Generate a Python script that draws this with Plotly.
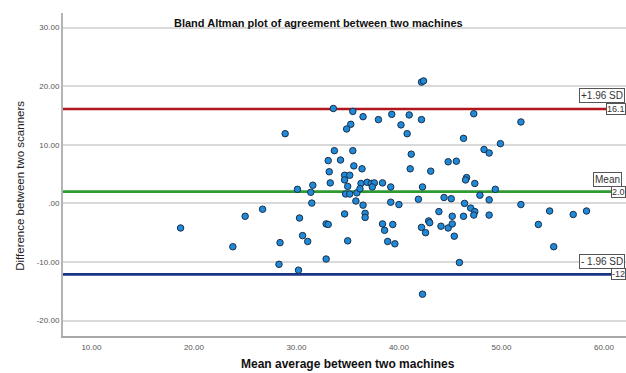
import plotly.graph_objects as go

# ---- data ----
mean_avg = [33.6, 35.5, 35.3, 34.9, 28.9, 33.7, 35.5, 33.1, 34.3, 35.6,
            33.2, 34.7, 35.2, 33.3, 34.7, 35.0, 31.6, 30.1, 31.4, 34.8,
            35.2, 35.9, 31.5, 35.8, 26.7, 25.0, 18.7, 30.3, 32.9, 33.1,
            34.7, 30.6, 31.1, 28.4, 23.8, 35.0, 32.9, 28.3, 30.2, 42.2,
            42.4, 36.5, 38.0, 39.3, 41.0, 40.2, 42.2, 40.8, 41.2, 44.8,
            36.4, 41.1, 43.1, 36.3, 36.9, 37.3, 37.6, 38.4, 37.4, 36.2,
            39.2, 42.3, 36.5, 39.2, 40.0, 41.9, 44.4, 36.7, 36.7, 43.9,
            42.9, 43.0, 38.4, 39.4, 38.6, 42.2, 42.6, 44.1, 44.8, 38.9,
            39.6, 42.3, 47.3, 51.9, 46.3, 49.9, 48.3, 48.8, 45.6, 46.6,
            46.5, 47.4, 49.4, 45.1, 47.9, 48.8, 51.9, 46.4, 47.0, 47.4,
            47.3, 46.3, 48.8, 45.2, 45.2, 45.4, 53.6, 45.9, 54.7, 57.0,
            58.3, 55.1]
difference = [16.2, 15.7, 13.5, 12.7, 11.9, 9.0, 9.0, 7.3, 7.4, 6.4,
              5.4, 4.8, 4.8, 3.5, 4.0, 2.9, 3.1, 2.4, 1.9, 1.6,
              1.6, 1.8, 0.05, 0.4, -1.0, -2.2, -4.2, -2.5, -3.5, -3.6,
              -1.8, -5.5, -6.5, -6.7, -7.4, -6.4, -9.5, -10.4, -11.4, 20.7,
              20.9, 14.8, 14.3, 15.2, 15.1, 13.4, 14.3, 11.9, 8.4, 7.1,
              5.9, 5.9, 5.5, 3.4, 3.6, 3.4, 3.5, 3.5, 2.8, 2.5,
              2.8, 2.8, -0.3, 0.2, -0.2, 0.7, 1.0, -1.7, -2.4, -1.4,
              -3.0, -3.3, -3.5, -3.6, -4.6, -4.1, -5.0, -3.9, -4.2, -6.5,
              -6.9, -15.5, 15.3, 13.9, 11.1, 10.2, 9.2, 8.6, 7.2, 4.4,
              4.0, 3.4, 2.4, 0.8, 1.4, 0.6, -0.2, 0.0, -0.8, -1.4,
              -2.0, -2.2, -2.0, -2.2, -3.5, -5.6, -3.6, -10.1, -1.3, -1.9,
              -1.3, -7.4]

mean_diff = 2.00
upper_loa = 16.12
lower_loa = -12.12

x_range = [7.23, 62.15]
y_range = [-22.64, 32.5]
x_tickvals = [10, 20, 30, 40, 50, 60]
x_ticktext = ["10.00", "20.00", "30.00", "40.00", "50.00", "60.00"]
y_tickvals = [30, 20, 10, 0, -10, -20]
y_ticktext = ["30.00", "20.00", "10.00", ".00", "-10.00", "-20.00"]

FONT = "Liberation Sans, Arial, sans-serif"

fig = go.Figure()

# reference lines (above grid, below points)
line_specs = [(upper_loa, "#b0161c"), (mean_diff, "#2e9a32"), (lower_loa, "#1a3585")]
for val, col in line_specs:
    fig.add_trace(go.Scatter(x=x_range, y=[val, val], mode="lines",
                             line=dict(color=col, width=2.6),
                             showlegend=False, hoverinfo="y"))

fig.add_trace(go.Scatter(
    x=mean_avg, y=difference, mode="markers",
    marker=dict(size=6.5, color="#1f8ad8", line=dict(width=1, color="#1c2f4a")),
    showlegend=False, hoverinfo="x+y",
))

box = dict(bgcolor="white", bordercolor="#555555", borderwidth=1, showarrow=False)
big = dict(family=FONT, size=10, color="#333333")
small = dict(family=FONT, size=9, color="#333333")

# labels near the right edge
fig.add_annotation(text="+1.96 SD", xref="paper", yref="y", x=0.998, y=18.35,
                   xanchor="right", yanchor="middle", borderpad=1, font=big, **box)
fig.add_annotation(text=f"{upper_loa:.1f}", xref="paper", yref="y", x=1.0, y=upper_loa,
                   xanchor="right", yanchor="middle", borderpad=0, font=small, **box)
fig.add_annotation(text="Mean", xref="paper", yref="y", x=0.9924, y=4.15,
                   xanchor="right", yanchor="middle", borderpad=1, font=big, **box)
fig.add_annotation(text=f"{mean_diff:.1f}", xref="paper", yref="y", x=1.0, y=mean_diff,
                   xanchor="right", yanchor="middle", borderpad=0, font=small, **box)
fig.add_annotation(text="- 1.96 SD", xref="paper", yref="y", x=0.998, y=-9.95,
                   xanchor="right", yanchor="middle", borderpad=1, font=big, **box)
fig.add_annotation(text=f"{lower_loa:.0f}", xref="paper", yref="y", x=1.0, y=lower_loa,
                   xanchor="right", yanchor="middle", borderpad=0, font=small, **box)

# title and axis titles
fig.add_annotation(text="<b>Bland Altman plot of agreement between two machines</b>",
                   xref="paper", yref="paper", x=0.453, y=0.968, xanchor="center", yanchor="middle",
                   showarrow=False, font=dict(family=FONT, size=11, color="#111111"))
fig.add_annotation(text="<b>Mean average between two machines</b>",
                   xref="paper", yref="paper", x=0.506, y=-0.088, xanchor="center", yanchor="middle",
                   showarrow=False, font=dict(family=FONT, size=12, color="#111111"))
fig.add_annotation(text="Difference between two scanners",
                   xref="paper", yref="paper", x=-0.0764, y=0.465, xanchor="center", yanchor="middle",
                   textangle=-90, showarrow=False, font=dict(family=FONT, size=11.5, color="#222222"))

fig.update_xaxes(range=x_range, tickvals=x_tickvals, ticktext=x_ticktext,
                 showgrid=False, zeroline=False, showline=True, linecolor="#a8a8a8", linewidth=1.5,
                 ticks="", ticklabelstandoff=3,
                 tickfont=dict(family=FONT, size=8, color="#555555"))
fig.update_yaxes(range=y_range, tickvals=y_tickvals, ticktext=y_ticktext,
                 showgrid=True, gridcolor="#d9d9d9", gridwidth=1.5, zeroline=False,
                 showline=True, linecolor="#b4b4b4", linewidth=2,
                 ticks="", tickfont=dict(family=FONT, size=8, color="#555555"))

fig.update_layout(width=626, height=373, margin=dict(l=63, r=0, t=13, b=37),
                  paper_bgcolor="white", plot_bgcolor="white",
                  font=dict(family=FONT))

fig.write_html("out.html")
